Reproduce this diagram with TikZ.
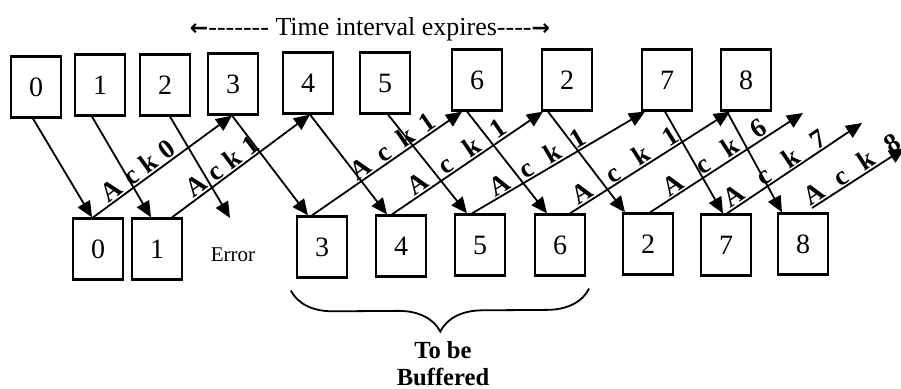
\documentclass[tikz,border=0pt]{standalone}
\usepackage{fontspec}
\setmainfont{Liberation Serif}
\newfontfamily\symfont{DejaVu Sans}
\usetikzlibrary{arrows.meta,decorations.pathreplacing}

\newcommand{\ackt}[2]{A\hspace{#1em}c\hspace{#1em}k\hspace{#1em}#2}
\newcommand{\hyrun}[1]{\foreach \i in {1,...,#1}{\mbox{-}}}
\newcommand{\tarrow}[1]{{\symfont\bfseries\fontsize{11}{12}\selectfont #1}}

\begin{document}
\begin{tikzpicture}[x=0.5pt, y=-0.5pt,
  frame/.style={draw, line width=1.1pt, minimum width=25pt, minimum height=30.5pt,
    inner sep=0pt, font=\fontsize{14}{16}\selectfont},
  msg/.style={line width=0.9pt, -{Triangle[length=8pt,width=7pt]}},
  acklab/.style={sloped, above, inner sep=0.5pt, font=\fontsize{13.5}{15}\selectfont\bfseries}]
  \useasboundingbox (0,0) rectangle (901,389);

  \node (title) at (370,29) {\fontsize{13}{15}\selectfont \tarrow{←}\hyrun{7} Time interval expires\hyrun{4}\tarrow{→}};

  % sender
  \node[frame] (t0) at (36,87) {0};
  \node[frame] (t1) at (100,85) {1};
  \node[frame] (t2) at (165,85) {2};
  \node[frame] (t3) at (233,84) {3};
  \node[frame] (t4) at (308,83) {4};
  \node[frame] (t5) at (385,83) {5};
  \node[frame] (t6) at (477,80) {6};
  \node[frame] (t2b) at (567,80) {2};
  \node[frame] (t7) at (667,80) {7};
  \node[frame] (t8) at (746,80) {8};

  % receiver
  \node[frame] (r0) at (98,249) {0};
  \node[frame] (r1) at (157,249) {1};
  \node[font=\fontsize{10.5}{12}\selectfont] (errtxt) at (233,255) {Error};
  \node[frame] (r3) at (322,247) {3};
  \node[frame] (r4) at (401,246) {4};
  \node[frame] (r5) at (480,245) {5};
  \node[frame] (r6) at (560,245) {6};
  \node[frame] (r2b) at (648,244) {2};
  \node[frame] (r7) at (726,245) {7};
  \node[frame] (r8) at (803,244) {8};

  \coordinate (lost) at (230,218);
  \coordinate (k6) at (803,113);
  \coordinate (k7) at (862,123);
  \coordinate (k8a) at (812,208);
  \coordinate (k8b) at (905,148);

  % frames
  \draw[msg] ([xshift=-1.5pt]t0.south) -- ([xshift=-3pt]r0.north);
  \draw[msg] ([xshift=-4pt]t1.south) -- ([xshift=-3pt]r1.north);
  \draw[msg] ([xshift=2.5pt]t2.south) -- (lost);
  \draw[msg] ([xshift=-0.5pt]t3.south) -- ([xshift=-7pt]r3.north);
  \draw[msg] ([xshift=1pt]t4.south) -- ([xshift=-7pt]r4.north);
  \draw[msg] ([xshift=1.5pt]t5.south) -- ([xshift=-6.5pt]r5.north);
  \draw[msg] ([xshift=-5pt]t6.south) -- ([xshift=-6.5pt]r6.north);
  \draw[msg] ([xshift=-9.5pt]t2b.south) -- ([xshift=-11.5pt]r2b.north);
  \draw[msg] ([xshift=-1pt]t7.south) -- ([xshift=-1.5pt]r7.north);
  \draw[msg] ([xshift=-9.5pt]t8.south) -- ([xshift=-10.5pt]r8.north);

  % acks
  \draw[msg] ([xshift=-2.5pt]r0.north) -- node[acklab, pos=0.37] {\ackt{0.31}{0}} ([xshift=-0.5pt]t3.south);
  \draw[msg] ([xshift=7.5pt]r1.north) -- node[acklab, pos=0.41] {\ackt{0.3}{1}} ([xshift=1pt]t4.south);
  \draw[msg] ([xshift=-5pt]r3.north) -- node[acklab, pos=0.58] {\ackt{0.47}{1}} ([xshift=-7.5pt]t6.south);
  \draw[msg] ([xshift=-4.5pt]r4.north) -- node[acklab, pos=0.47] {\ackt{0.67}{1}} ([xshift=-12pt]t2b.south);
  \draw[msg] ([xshift=-4pt]r5.north) -- node[acklab, pos=0.41] {\ackt{0.6}{1}} ([xshift=-11pt]t7.south);
  \draw[msg] ([xshift=5pt]r6.north) -- node[acklab, pos=0.38] {\ackt{0.77}{1}} ([xshift=-8pt]t8.south);
  \draw[msg] ([xshift=1pt]r2b.north) -- node[acklab, pos=0.46] {\ackt{0.72}{6}} (k6);
  \draw[msg] ([xshift=0.5pt]r7.north) -- node[acklab, pos=0.4] {\ackt{0.72}{7}} (k7);
  \draw[msg] (k8a) -- node[acklab, pos=0.49] {\ackt{0.62}{8}} (k8b);

  \draw[line width=0.9pt, decorate, decoration={brace, mirror, amplitude=21pt}]
    ([xshift=-2.5pt,yshift=-6pt]r3.south west) -- ([xshift=1.5pt,yshift=-6pt]r6.south east);
  \node[align=center, inner sep=0pt, font=\fontsize{12.3}{13.5}\selectfont\bfseries] (buf) at (443,364) {To be\\Buffered};
\end{tikzpicture}
\end{document}
